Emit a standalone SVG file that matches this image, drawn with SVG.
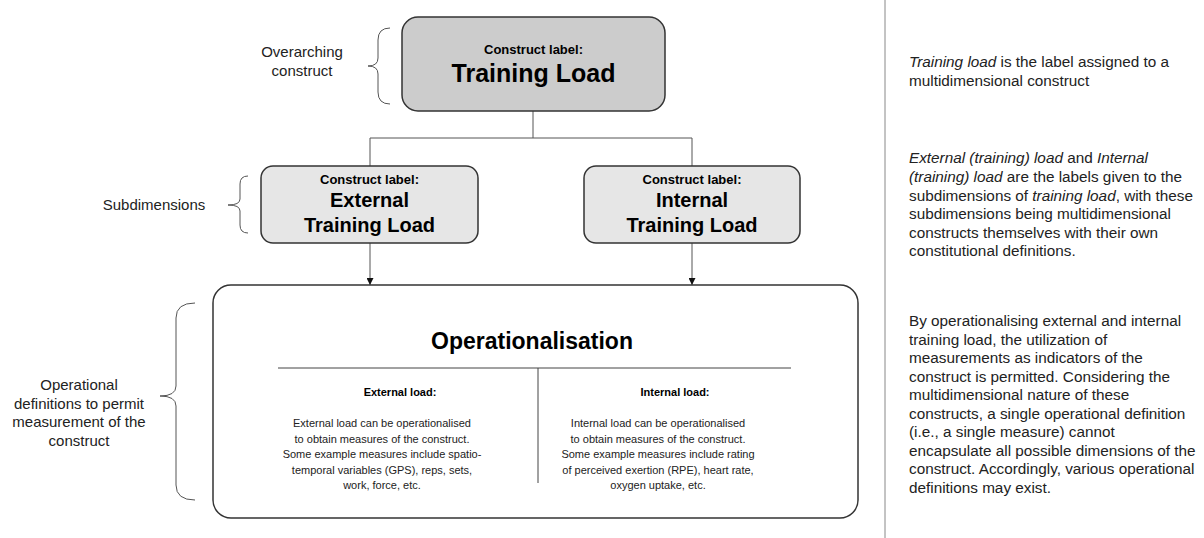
<svg xmlns="http://www.w3.org/2000/svg" width="1204" height="538" viewBox="0 0 1204 538">
<defs>
<marker id="arr" viewBox="0 0 10 10" refX="10" refY="5" markerWidth="7" markerHeight="7" markerUnits="userSpaceOnUse" orient="auto">
<path d="M0,0 L10,5 L0,10 z" fill="#111"/>
</marker>
<style>
text{font-family:"Liberation Sans",Arial,sans-serif;}
.box{stroke:#333;stroke-width:1.5;}
.b{font-weight:bold;fill:#000;text-anchor:middle;}
.lbl{font-size:15px;fill:#222;text-anchor:middle;}
.side{font-size:15.3px;fill:#222;}
.para{font-size:11px;fill:#222;text-anchor:middle;}
.conn{stroke:#555;stroke-width:1;fill:none;}
.brace{stroke:#555;stroke-width:1;fill:none;}
</style>
</defs>
<rect width="1204" height="538" fill="#fff"/>

<g id="connectors">
<path class="conn" d="M533,111 V138 M370,138 H692 M370,138 V166 M692,138 V166"/>
<path class="conn" d="M370,243 V285" marker-end="url(#arr)"/>
<path class="conn" d="M692,243 V285" marker-end="url(#arr)"/>
</g>

<g id="node-training-load">
<rect class="box" x="402" y="17" width="263" height="94" rx="16" fill="#cccccc"/>
<text class="b" x="533.5" y="54" font-size="13">Construct label:</text>
<text class="b" x="533.5" y="82" font-size="25">Training Load</text>
</g>

<g id="node-external">
<rect class="box" x="261" y="166" width="217" height="77" rx="12" fill="#e6e6e6"/>
<text class="b" x="369.5" y="184" font-size="13">Construct label:</text>
<text class="b" x="369.5" y="207" font-size="20">External</text>
<text class="b" x="369.5" y="232" font-size="20">Training Load</text>
</g>

<g id="node-internal">
<rect class="box" x="584" y="166" width="216" height="77" rx="12" fill="#e6e6e6"/>
<text class="b" x="692" y="184" font-size="13">Construct label:</text>
<text class="b" x="692" y="207" font-size="20">Internal</text>
<text class="b" x="692" y="232" font-size="20">Training Load</text>
</g>

<g id="node-operationalisation">
<rect class="box" x="213" y="285" width="645" height="233" rx="18" fill="#fff"/>
<text class="b" x="532" y="349" font-size="23">Operationalisation</text>
<path d="M278,368 H791 M538,368 V483" stroke="#444" stroke-width="1" fill="none"/>
<text class="b" x="400" y="396" font-size="11">External load:</text>
<text class="para" x="382" y="427">External load can be operationalised</text>
<text class="para" x="382" y="442.5">to obtain measures of the construct.</text>
<text class="para" x="382" y="458">Some example measures include spatio-</text>
<text class="para" x="382" y="473.5">temporal variables (GPS), reps, sets,</text>
<text class="para" x="382" y="489">work, force, etc.</text>
<text class="b" x="675" y="396" font-size="11">Internal load:</text>
<text class="para" x="658" y="427">Internal load can be operationalised</text>
<text class="para" x="658" y="442.5">to obtain measures of the construct.</text>
<text class="para" x="658" y="458">Some example measures include rating</text>
<text class="para" x="658" y="473.5">of perceived exertion (RPE), heart rate,</text>
<text class="para" x="658" y="489">oxygen uptake, etc.</text>
</g>

<g id="label-overarching">
<path class="brace" d="M390,28 Q378,28 378,40 L378,58 Q378,66 368,66 Q378,66 378,74 L378,92 Q378,104 390,104"/>
<text class="lbl" x="302" y="57">Overarching</text>
<text class="lbl" x="302" y="76">construct</text>
</g>

<g id="label-subdimensions">
<path class="brace" d="M248,176 Q240,176 240,184 L240,199 Q240,205 228,205 Q240,205 240,211 L240,225 Q240,233 248,233"/>
<text class="lbl" x="154" y="210">Subdimensions</text>
</g>

<g id="label-operational">
<path class="brace" d="M195,303 Q176,303 176,318 L176,386 Q176,396 160,396 Q176,396 176,406 L176,485 Q176,500 195,500"/>
<text class="lbl" x="79" y="390">Operational</text>
<text class="lbl" x="79" y="408.5">definitions to permit</text>
<text class="lbl" x="79" y="427">measurement of the</text>
<text class="lbl" x="79" y="445.5">construct</text>
</g>

<g id="notes">
<line x1="885" y1="0" x2="885" y2="538" stroke="#888" stroke-width="1"/>
<text class="side" x="909" y="67"><tspan font-style="italic">Training load</tspan> is the label assigned to a</text>
<text class="side" x="909" y="86">multidimensional construct</text>
<text class="side" x="909" y="163"><tspan font-style="italic">External (training) load</tspan> and <tspan font-style="italic">Internal</tspan></text>
<text class="side" x="909" y="182"><tspan font-style="italic">(training) load</tspan> are the labels given to the</text>
<text class="side" x="909" y="200.5">subdimensions of <tspan font-style="italic">training load</tspan>, with these</text>
<text class="side" x="909" y="219">subdimensions being multidimensional</text>
<text class="side" x="909" y="237.5">constructs themselves with their own</text>
<text class="side" x="909" y="256">constitutional definitions.</text>
<text class="side" x="909" y="326">By operationalising external and internal</text>
<text class="side" x="909" y="344.5">training load, the utilization of</text>
<text class="side" x="909" y="363">measurements as indicators of the</text>
<text class="side" x="909" y="381.5">construct is permitted. Considering the</text>
<text class="side" x="909" y="400">multidimensional nature of these</text>
<text class="side" x="909" y="418.5">constructs, a single operational definition</text>
<text class="side" x="909" y="437">(i.e., a single measure) cannot</text>
<text class="side" x="909" y="455.5">encapsulate all possible dimensions of the</text>
<text class="side" x="909" y="474">construct. Accordingly, various operational</text>
<text class="side" x="909" y="492.5">definitions may exist.</text>
</g>
</svg>
